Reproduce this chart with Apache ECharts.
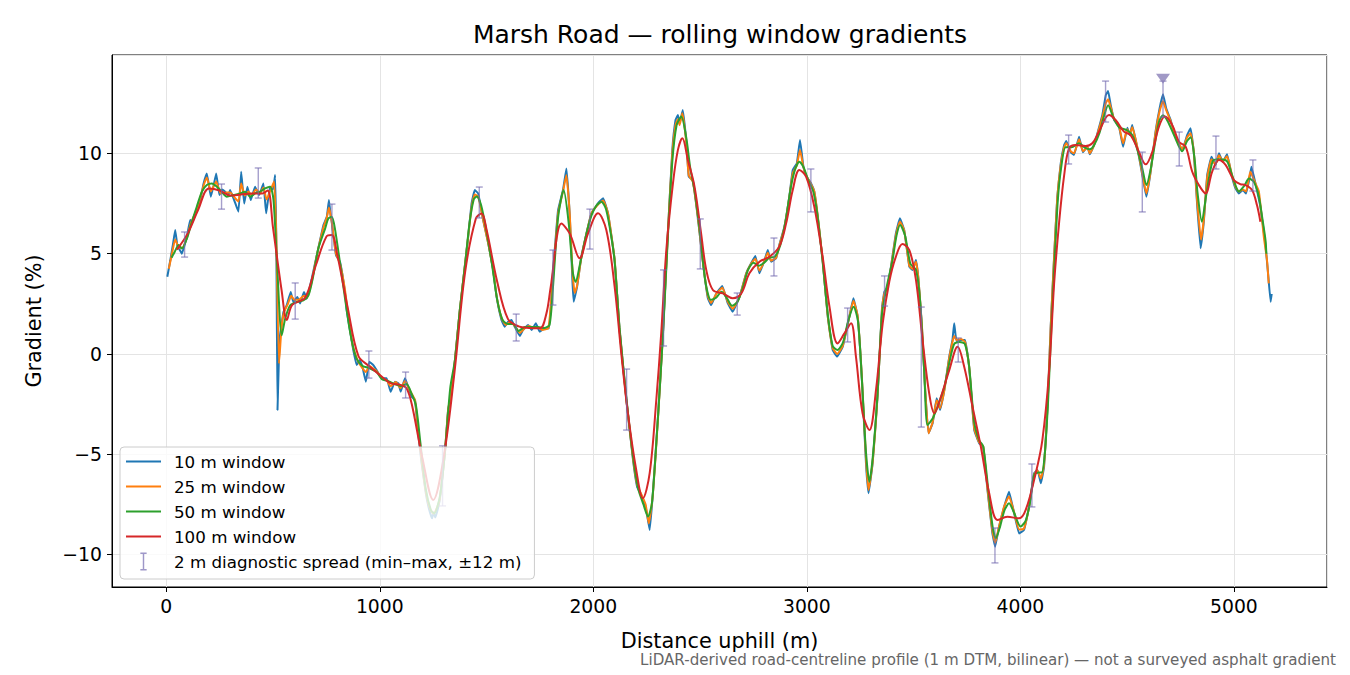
<!DOCTYPE html>
<html>
<head>
<meta charset="utf-8">
<title>Marsh Road — rolling window gradients</title>
<script src="https://cdn.jsdelivr.net/npm/echarts@6/dist/echarts.min.js"></script>
<style>
  html, body { margin: 0; padding: 0; background: #fff; }
  #chart { width: 1350px; height: 675px; }
</style>
</head>
<body>
<div id="chart"></div>
<script>
// 10 m window (distance m, gradient %)
const d10 = [5, 19, 32, 42, 52, 60, 73, 85, 97, 112, 122, 143, 159, 175, 190, 200, 209, 222, 234, 249, 262, 276, 290, 299, 318, 338, 351, 365, 380, 396, 416, 435, 455, 468, 486, 500, 510, 516, 521, 527, 533, 549, 564, 583, 595, 614, 627, 645, 658, 681, 705, 736, 752, 762, 770, 775, 795, 814, 837, 845, 860, 876, 892, 907, 920, 935, 951, 970, 985, 1009, 1032, 1051, 1071, 1087, 1098, 1118, 1133, 1149, 1165, 1180, 1196, 1215, 1230, 1245, 1252, 1260, 1270, 1281, 1305, 1320, 1336, 1352, 1375, 1391, 1414, 1430, 1445, 1461, 1484, 1508, 1531, 1547, 1570, 1585, 1601, 1617, 1632, 1656, 1671, 1695, 1711, 1731, 1749, 1773, 1793, 1811, 1835, 1858, 1874, 1890, 1902, 1908, 1924, 1944, 1968, 1991, 2022, 2046, 2069, 2100, 2123, 2155, 2186, 2205, 2225, 2245, 2264, 2279, 2303, 2326, 2349, 2370, 2385, 2396, 2404, 2419, 2435, 2447, 2466, 2489, 2513, 2536, 2552, 2576, 2604, 2630, 2653, 2685, 2716, 2739, 2759, 2778, 2802, 2817, 2833, 2856, 2871, 2895, 2918, 2934, 2953, 2968, 2984, 2999, 3020, 3035, 3051, 3074, 3098, 3121, 3142, 3168, 3199, 3218, 3238, 3258, 3277, 3289, 3308, 3331, 3352, 3363, 3378, 3394, 3417, 3436, 3456, 3480, 3495, 3511, 3523, 3539, 3554, 3570, 3589, 3608, 3624, 3644, 3667, 3682, 3690, 3701, 3721, 3741, 3760, 3784, 3807, 3826, 3846, 3869, 3882, 3900, 3924, 3947, 3971, 3994, 4017, 4041, 4064, 4080, 4096, 4111, 4127, 4142, 4158, 4173, 4189, 4205, 4215, 4236, 4251, 4275, 4293, 4314, 4325, 4345, 4365, 4384, 4400, 4411, 4423, 4439, 4462, 4481, 4501, 4512, 4524, 4548, 4571, 4590, 4610, 4633, 4652, 4668, 4683, 4704, 4719, 4734, 4758, 4781, 4797, 4812, 4828, 4844, 4859, 4875, 4895, 4914, 4930, 4948, 4968, 4989, 5007, 5023, 5042, 5057, 5073, 5082, 5101, 5124, 5147, 5160, 5172, 5177];
const g10 = [3.85, 4.67, 5.5, 6.18, 5.4, 5.25, 5.0, 5.4, 5.85, 6.68, 6.55, 7.18, 7.67, 8.5, 9.0, 8.4, 7.84, 8.4, 9.0, 7.92, 8.2, 8.09, 7.9, 8.17, 7.67, 7.09, 9.08, 7.5, 8.34, 7.67, 8.34, 7.92, 8.5, 7.01, 8.34, 8.2, 8.92, 5.0, -2.79, -0.5, 0.93, 2.09, 2.42, 3.09, 2.59, 2.84, 2.52, 3.09, 2.76, 3.74, 4.92, 6.42, 6.84, 7.67, 6.9, 6.59, 4.92, 4.59, 3.09, 2.19, 1.2, 0.2, -0.55, -0.3, -0.7, -1.38, -0.38, -0.55, -0.8, -1.21, -1.21, -1.88, -1.38, -1.46, -1.88, -1.21, -1.63, -2.13, -2.29, -3.95, -5.45, -6.9, -7.7, -8.19, -7.9, -8.15, -7.8, -7.27, -4.95, -2.79, -1.96, -0.3, 2.19, 3.69, 5.85, 7.51, 8.17, 8.0, 6.68, 5.52, 4.19, 2.86, 1.69, 1.36, 1.61, 1.69, 1.36, 0.9, 1.2, 1.44, 1.2, 1.53, 1.11, 1.28, 1.28, 4.02, 7.17, 8.17, 9.25, 6.84, 3.69, 2.61, 3.35, 4.85, 6.01, 7.01, 7.51, 7.76, 7.01, 4.68, 1.2, -2.29, -5.28, -6.61, -7.03, -7.61, -8.77, -6.94, -3.12, 1.03, 6.01, 10.16, 11.66, 11.91, 11.49, 12.16, 10.66, 8.84, 8.67, 6.84, 4.6, 2.8, 2.44, 3.02, 3.39, 2.52, 2.11, 2.86, 4.02, 4.52, 4.88, 4.02, 4.68, 5.18, 4.6, 4.77, 5.43, 6.34, 7.84, 9.17, 9.5, 10.66, 9.33, 8.84, 8.5, 8.09, 6.84, 4.68, 1.86, 0.2, -0.13, 0.36, 1.86, 2.78, 1.86, -1.3, -5.45, -6.94, -5.45, -2.13, 2.3, 3.1, 3.35, 4.35, 6.01, 6.76, 6.18, 4.35, 4.19, 4.68, 3.69, 1.36, -1.79, -3.95, -3.45, -2.21, -2.79, -1.79, -0.13, 0.7, 1.53, 0.65, 0.7, 0.7, -0.63, -3.79, -4.45, -4.62, -6.78, -8.94, -9.6, -8.61, -7.61, -6.86, -7.94, -8.94, -8.77, -7.61, -5.94, -5.78, -6.44, -5.61, -2.63, 1.36, 4.85, 7.84, 9.5, 10.41, 10.61, 10.05, 9.92, 10.83, 10.05, 10.33, 9.95, 10.41, 11.16, 11.91, 12.9, 13.1, 12.41, 11.66, 11.33, 10.33, 11.28, 10.91, 11.41, 10.25, 8.92, 7.84, 9.08, 11.08, 12.24, 12.94, 12.24, 11.66, 11.08, 10.66, 10.16, 10.91, 11.25, 10.08, 7.42, 5.27, 6.59, 8.92, 9.83, 9.42, 10.0, 9.58, 9.95, 8.92, 8.26, 8.0, 8.17, 8.0, 8.75, 9.33, 8.5, 7.34, 5.52, 4.02, 2.6, 3.0];

// 25 m window
const d25 = [12, 25, 42, 60, 75, 97, 115, 143, 160, 175, 190, 209, 234, 255, 280, 300, 320, 338, 351, 368, 385, 400, 420, 440, 455, 470, 490, 505, 515, 528, 540, 552, 570, 585, 600, 620, 645, 660, 681, 705, 736, 752, 762, 775, 795, 814, 837, 860, 876, 900, 935, 951, 985, 1010, 1032, 1051, 1075, 1098, 1118, 1140, 1165, 1180, 1196, 1215, 1235, 1252, 1270, 1281, 1305, 1320, 1336, 1352, 1375, 1391, 1414, 1430, 1445, 1461, 1484, 1508, 1531, 1547, 1570, 1590, 1610, 1632, 1656, 1680, 1700, 1720, 1740, 1760, 1790, 1811, 1835, 1858, 1874, 1890, 1902, 1913, 1924, 1944, 1968, 1991, 2022, 2046, 2069, 2100, 2123, 2155, 2186, 2205, 2225, 2245, 2260, 2279, 2303, 2326, 2349, 2370, 2385, 2396, 2404, 2417, 2435, 2447, 2466, 2489, 2513, 2536, 2552, 2576, 2604, 2630, 2653, 2685, 2716, 2739, 2759, 2778, 2802, 2817, 2833, 2856, 2871, 2895, 2918, 2934, 2953, 2968, 2984, 2999, 3020, 3035, 3051, 3074, 3098, 3121, 3142, 3168, 3199, 3218, 3238, 3258, 3277, 3289, 3308, 3331, 3352, 3363, 3378, 3394, 3417, 3436, 3456, 3480, 3495, 3511, 3523, 3539, 3554, 3570, 3589, 3608, 3624, 3644, 3667, 3682, 3690, 3701, 3721, 3741, 3760, 3784, 3807, 3826, 3846, 3869, 3882, 3900, 3924, 3947, 3971, 3994, 4017, 4041, 4064, 4080, 4096, 4111, 4127, 4142, 4158, 4173, 4189, 4205, 4215, 4236, 4251, 4275, 4293, 4314, 4325, 4345, 4365, 4384, 4400, 4411, 4423, 4439, 4462, 4481, 4501, 4512, 4524, 4548, 4571, 4590, 4610, 4633, 4652, 4668, 4683, 4704, 4719, 4734, 4758, 4781, 4797, 4812, 4828, 4846, 4859, 4875, 4895, 4914, 4930, 4948, 4968, 4989, 5007, 5023, 5042, 5057, 5077, 5101, 5117, 5140, 5155, 5163];
const g25 = [4.25, 4.9, 5.7, 5.3, 5.3, 5.8, 6.5, 7.2, 7.8, 8.4, 8.8, 8.1, 8.6, 8.0, 8.05, 8.05, 7.8, 7.6, 8.5, 7.9, 8.1, 7.9, 8.2, 8.0, 8.3, 7.7, 8.2, 8.6, 6.0, -0.47, 1.3, 2.1, 2.5, 2.9, 2.7, 2.7, 2.9, 2.8, 3.6, 4.9, 6.3, 6.8, 7.3, 6.6, 5.0, 4.5, 3.2, 1.3, 0.3, -0.4, -0.9, -0.6, -0.85, -1.2, -1.3, -1.6, -1.4, -1.7, -1.35, -1.8, -2.3, -3.8, -5.3, -6.8, -7.7, -7.95, -7.6, -7.2, -4.9, -2.8, -1.8, -0.3, 2.2, 3.7, 5.85, 7.3, 7.95, 7.85, 6.7, 5.5, 4.2, 2.9, 1.8, 1.45, 1.6, 1.4, 1.05, 1.3, 1.4, 1.3, 1.35, 1.2, 1.3, 3.8, 7.0, 8.1, 8.92, 6.9, 4.2, 3.04, 3.4, 4.8, 6.0, 7.0, 7.45, 7.65, 7.0, 4.7, 1.2, -2.3, -5.2, -6.5, -7.0, -7.5, -8.45, -7.0, -3.2, 1.0, 6.0, 10.0, 11.4, 11.7, 11.4, 12.0, 10.6, 8.9, 8.6, 6.9, 4.6, 2.9, 2.55, 3.0, 3.3, 2.6, 2.25, 2.85, 4.0, 4.5, 4.75, 4.15, 4.65, 5.05, 4.65, 4.8, 5.4, 6.3, 7.8, 9.0, 9.4, 10.16, 9.3, 8.85, 8.45, 8.1, 6.9, 4.7, 1.9, 0.3, 0.0, 0.4, 1.85, 2.65, 1.9, -1.2, -5.2, -6.78, -5.4, -2.1, 2.2, 3.0, 3.35, 4.3, 5.9, 6.6, 6.15, 4.4, 4.25, 4.6, 3.7, 1.4, -1.7, -3.95, -3.4, -2.3, -2.7, -1.8, -0.2, 0.6, 0.9, 0.7, 0.75, 0.6, -0.6, -3.7, -4.4, -4.6, -6.7, -8.8, -9.4, -8.6, -7.6, -7.1, -7.9, -8.75, -8.7, -7.6, -6.0, -5.8, -6.2, -5.5, -2.6, 1.3, 4.8, 7.8, 9.4, 10.3, 10.5, 10.1, 10.0, 10.7, 10.1, 10.3, 10.0, 10.4, 11.1, 11.8, 12.5, 12.7, 12.3, 11.7, 11.35, 10.5, 11.2, 10.95, 11.3, 10.3, 9.0, 8.0, 9.1, 11.0, 12.1, 12.6, 12.15, 11.6, 11.1, 10.7, 10.2, 10.8, 11.0, 10.1, 7.6, 5.7, 6.7, 8.8, 9.7, 9.45, 9.9, 9.6, 9.85, 9.0, 8.35, 8.1, 8.2, 8.1, 9.08, 8.5, 8.1, 5.85, 4.68, 3.52];

// 50 m window
const d50 = [25, 40, 58, 73, 97, 120, 143, 167, 190, 214, 237, 260, 284, 315, 346, 369, 393, 416, 440, 463, 486, 502, 518, 541, 557, 580, 611, 642, 666, 689, 712, 744, 759, 775, 790, 822, 861, 890, 920, 950, 985, 1010, 1040, 1070, 1100, 1125, 1150, 1170, 1190, 1215, 1240, 1255, 1270, 1285, 1305, 1330, 1352, 1375, 1400, 1420, 1440, 1455, 1475, 1500, 1525, 1550, 1575, 1600, 1625, 1650, 1680, 1710, 1740, 1770, 1795, 1811, 1835, 1861, 1885, 1905, 1917, 1940, 1968, 1991, 2015, 2038, 2060, 2085, 2100, 2123, 2155, 2186, 2210, 2235, 2256, 2275, 2300, 2326, 2349, 2370, 2390, 2412, 2435, 2455, 2475, 2500, 2525, 2550, 2575, 2600, 2625, 2650, 2675, 2700, 2725, 2750, 2775, 2800, 2825, 2850, 2875, 2900, 2925, 2945, 2965, 2985, 3005, 3030, 3050, 3074, 3098, 3121, 3144, 3170, 3195, 3219, 3240, 3258, 3277, 3293, 3310, 3331, 3352, 3375, 3400, 3420, 3437, 3460, 3485, 3511, 3530, 3550, 3565, 3590, 3620, 3645, 3670, 3690, 3715, 3740, 3760, 3784, 3807, 3826, 3850, 3870, 3885, 3905, 3925, 3947, 3970, 4001, 4025, 4045, 4065, 4085, 4100, 4115, 4130, 4145, 4160, 4175, 4190, 4212, 4240, 4275, 4300, 4325, 4345, 4370, 4390, 4411, 4435, 4462, 4500, 4525, 4550, 4571, 4590, 4610, 4635, 4650, 4668, 4690, 4720, 4758, 4780, 4797, 4815, 4830, 4850, 4870, 4900, 4930, 4968, 4995, 5023, 5050, 5070, 5093, 5117, 5132, 5148, 5152];
const g50 = [4.8, 5.1, 5.43, 5.26, 5.76, 6.59, 7.34, 8.09, 8.42, 8.5, 8.34, 8.09, 7.84, 7.92, 8.0, 8.09, 7.84, 8.0, 8.09, 8.25, 8.34, 7.7, 4.7, 0.93, 1.76, 2.42, 2.59, 2.67, 2.92, 3.92, 5.25, 6.25, 6.75, 6.84, 6.25, 3.92, 1.1, -0.2, -0.6, -0.7, -0.9, -1.25, -1.35, -1.5, -1.6, -1.5, -2.0, -2.6, -4.4, -6.7, -7.8, -7.94, -7.6, -6.9, -4.9, -1.7, -0.3, 2.2, 4.5, 6.5, 7.7, 7.85, 7.4, 6.1, 4.5, 2.7, 1.7, 1.5, 1.5, 1.15, 1.35, 1.35, 1.35, 1.3, 1.45, 3.3, 6.8, 8.17, 6.5, 4.0, 3.6, 4.6, 6.0, 6.9, 7.4, 7.59, 7.2, 5.8, 4.6, 1.3, -2.2, -5.1, -6.7, -7.5, -8.1, -7.4, -3.6, 0.9, 5.8, 9.6, 11.4, 11.83, 10.8, 9.2, 8.1, 6.0, 3.6, 2.7, 2.8, 3.1, 2.8, 2.4, 2.6, 3.3, 4.2, 4.55, 4.4, 4.55, 4.8, 4.85, 5.4, 6.6, 8.3, 9.2, 9.58, 9.3, 8.7, 8.1, 6.9, 4.6, 2.0, 0.4, 0.2, 0.6, 1.7, 2.36, 1.6, -1.3, -4.9, -6.36, -5.0, -2.0, 2.0, 3.4, 4.6, 5.9, 6.43, 5.9, 4.5, 4.2, 2.7, -0.9, -3.54, -3.2, -2.4, -1.6, -0.3, 0.5, 0.6, 0.5, -0.6, -3.4, -4.3, -4.6, -6.8, -8.6, -9.18, -8.6, -7.8, -7.44, -7.9, -8.6, -8.3, -7.4, -6.0, -5.9, -5.9, -4.9, -2.3, 1.3, 4.6, 7.6, 9.2, 10.3, 10.3, 10.5, 10.3, 10.2, 10.4, 11.0, 11.8, 12.4, 11.8, 11.3, 11.15, 10.9, 10.1, 9.25, 8.42, 9.2, 10.8, 11.6, 11.9, 11.6, 10.9, 10.1, 10.6, 10.8, 9.8, 8.0, 6.59, 7.9, 9.6, 9.7, 9.6, 8.8, 8.1, 8.4, 8.75, 8.59, 7.84, 6.84, 5.68, 5.0];

// 100 m window
const d100 = [50, 100, 150, 200, 250, 300, 350, 400, 450, 475, 500, 540, 565, 590, 650, 700, 750, 775, 800, 850, 900, 950, 1000, 1050, 1100, 1125, 1150, 1200, 1250, 1300, 1350, 1400, 1450, 1477, 1500, 1550, 1600, 1650, 1700, 1750, 1780, 1800, 1851, 1890, 1936, 1975, 2022, 2061, 2100, 2131, 2162, 2201, 2232, 2264, 2295, 2318, 2342, 2373, 2396, 2417, 2443, 2474, 2505, 2529, 2560, 2607, 2653, 2693, 2731, 2778, 2825, 2871, 2903, 2934, 2965, 2997, 3035, 3074, 3106, 3144, 3176, 3207, 3230, 3261, 3293, 3324, 3355, 3386, 3417, 3448, 3480, 3511, 3542, 3573, 3597, 3628, 3667, 3706, 3737, 3776, 3815, 3854, 3893, 3939, 3994, 4025, 4072, 4103, 4134, 4158, 4181, 4205, 4228, 4259, 4306, 4337, 4368, 4415, 4446, 4485, 4516, 4555, 4587, 4618, 4649, 4677, 4711, 4743, 4774, 4805, 4836, 4867, 4898, 4930, 4961, 5000, 5031, 5054, 5085, 5108, 5124];
const g100 = [5.2, 6.0, 7.2, 8.25, 8.15, 7.9, 7.95, 8.0, 8.0, 8.15, 6.3, 3.2, 1.7, 2.45, 2.8, 4.4, 5.85, 5.93, 5.0, 2.3, -0.1, -0.6, -1.05, -1.45, -1.55, -1.7, -2.5, -5.2, -7.27, -5.1, -0.9, 4.1, 6.75, 7.0, 6.2, 3.6, 1.75, 1.38, 1.3, 1.28, 2.0, 3.3, 6.5, 6.0, 4.77, 6.0, 7.01, 6.18, 3.35, 0.03, -2.95, -5.78, -7.19, -5.94, -2.29, 1.03, 5.18, 8.5, 10.16, 10.75, 9.67, 8.34, 6.0, 4.19, 3.19, 3.02, 2.78, 3.02, 4.02, 4.6, 4.85, 5.35, 6.51, 8.17, 9.17, 8.83, 7.34, 4.85, 2.36, 0.53, 1.03, 1.53, -0.13, -2.95, -3.79, -1.79, 1.5, 3.6, 4.85, 5.48, 5.18, 3.69, 0.7, -1.96, -2.95, -2.13, -0.8, 0.36, -0.63, -2.63, -4.62, -6.94, -8.27, -8.11, -8.19, -7.77, -5.94, -4.29, -0.96, 3.5, 6.5, 8.9, 10.25, 10.41, 10.36, 10.5, 11.08, 11.91, 11.66, 11.08, 10.91, 10.08, 9.45, 10.08, 11.33, 11.83, 11.41, 10.58, 10.33, 9.08, 8.42, 8.0, 9.08, 9.67, 9.42, 8.67, 8.46, 8.42, 8.17, 7.42, 6.59];

// 2 m diagnostic spread: min and max within ±12 m
const errDist = [86, 259, 431, 604, 776, 949, 1121, 1294, 1466, 1639, 1811, 1984, 2156, 2329, 2501, 2674, 2846, 3019, 3191, 3364, 3536, 3709, 3881, 4054, 4226, 4399, 4571, 4668, 4744, 4916, 5089];
const errMin = [4.83, 7.22, 7.77, 1.74, 5.18, -1.2, -2.19, -7.57, 6.78, 0.65, 2.44, 5.23, -3.79, 0.4, 4.24, 1.94, 3.89, 7.08, 0.6, 2.39, -3.64, -0.4, -10.41, -7.62, 9.47, 11.56, 7.08, 11.8, 9.37, 9.22, 8.12];
const errMax = [6.08, 8.47, 9.27, 3.54, 7.47, 0.15, -0.9, -4.58, 8.32, 1.99, 5.18, 7.22, -0.75, 4.19, 6.73, 3.04, 5.78, 9.22, 2.29, 3.89, 2.34, 0.8, -8.67, -5.48, 10.91, 13.6, 10.06, 13.6, 11.06, 10.86, 9.67];

// steepest point marker
const peakDist = [4668];
const peakVal = [13.72];

const FONT = "DejaVu Sans";
const errColor = "rgba(117,107,177,0.65)";
const lineIcon = "path://M0,0h35v2.2h-35z";
const minus = (v) => (v < 0 ? "\u2212" + Math.abs(v) : String(v));
const pairs = (xs, ys) => xs.map((x, i) => [x, ys[i]]);

const chartDom = document.getElementById("chart");
const myChart = echarts.init(chartDom, null, { renderer: "svg" });

function lineSeries(name, xs, ys, color, z, smooth) {
  return {
    name: name,
    type: "line",
    data: pairs(xs, ys),
    symbol: "none",
    smooth: smooth,
    z: z,
    lineStyle: { color: color, width: 2 },
    itemStyle: { color: color },
    animation: false,
  };
}

const errName = "2 m diagnostic spread (min\u2013max, \u00b112 m)";

const option = {
  backgroundColor: "#ffffff",
  textStyle: { fontFamily: FONT },
  grid: {
    left: 112,
    right: 23,
    top: 55,
    bottom: 88,
    show: true,
    borderColor: "#000",
    borderWidth: 1,
    backgroundColor: "transparent",
  },
  graphic: [
    {
      type: "text",
      x: 720,
      y: 34,
      style: {
        text: "Marsh Road \u2014 rolling window gradients",
        font: "25px 'DejaVu Sans'",
        fill: "#000",
        textAlign: "center",
        textVerticalAlign: "middle",
      },
    },
    {
      type: "text",
      x: 1336,
      y: 660,
      style: {
        text: "LiDAR-derived road-centreline profile (1 m DTM, bilinear) \u2014 not a surveyed asphalt gradient",
        font: "15.1px 'DejaVu Sans'",
        fill: "#666",
        textAlign: "right",
        textVerticalAlign: "middle",
      },
    },
  ],
  legend: {
    left: 120,
    top: 447,
    orient: "vertical",
    z: 20,
    itemWidth: 35,
    itemHeight: 18,
    itemGap: 6,
    padding: [5, 13, 8, 6],
    backgroundColor: "rgba(255,255,255,0.8)",
    borderColor: "#cccccc",
    borderWidth: 1,
    borderRadius: 4,
    textStyle: { fontFamily: FONT, fontSize: 16.7, color: "#000", padding: [0, 0, 0, 8], lineHeight: 19 },
    data: [
      { name: "10 m window", icon: lineIcon },
      { name: "25 m window", icon: lineIcon },
      { name: "50 m window", icon: lineIcon },
      { name: "100 m window", icon: lineIcon },
      {
        name: errName,
        icon: "path://M0,0h7v1.6h-7z M2.7,1.6h1.6v16.8h-1.6z M0,18.4h7v1.6h-7z",
        itemStyle: { color: "rgba(117,107,177,0.7)" },
      },
    ],
  },
  xAxis: {
    type: "value",
    min: -254,
    max: 5436,
    splitNumber: 5,
    name: "Distance uphill (m)",
    nameLocation: "middle",
    nameGap: 43,
    nameTextStyle: { fontFamily: FONT, fontSize: 20.8, color: "#000" },
    axisLine: { show: true, onZero: false, lineStyle: { color: "#000" } },
    axisTick: { show: true, length: 5, lineStyle: { color: "#000" } },
    axisLabel: {
      fontFamily: FONT,
      fontSize: 18.8,
      color: "#000",
      margin: 10,
      showMinLabel: false,
      showMaxLabel: false,
      formatter: minus,
    },
    splitLine: { show: true, lineStyle: { color: "#e4e4e4", width: 1 } },
  },
  yAxis: {
    type: "value",
    min: -11.61,
    max: 14.9,
    splitNumber: 5,
    name: "Gradient (%)",
    nameLocation: "middle",
    nameGap: 68,
    nameTextStyle: { fontFamily: FONT, fontSize: 20.8, color: "#000" },
    axisLine: { show: true, onZero: false, lineStyle: { color: "#000" } },
    axisTick: { show: true, length: 5, lineStyle: { color: "#000" } },
    axisLabel: {
      fontFamily: FONT,
      fontSize: 18.8,
      color: "#000",
      margin: 10,
      showMinLabel: false,
      showMaxLabel: false,
      formatter: minus,
    },
    splitLine: { show: true, lineStyle: { color: "#e4e4e4", width: 1 } },
  },
  series: [
    lineSeries("10 m window", d10, g10, "#1f77b4", 2, 0.1),
    lineSeries("25 m window", d25, g25, "#ff7f0e", 3, 0.15),
    lineSeries("50 m window", d50, g50, "#2ca02c", 4, 0.25),
    lineSeries("100 m window", d100, g100, "#d62728", 5, 0.35),
    {
      name: errName,
      type: "custom",
      z: 6,
      animation: false,
      itemStyle: { color: errColor },
      encode: { x: 0, y: [1, 2] },
      data: errDist.map((d, i) => [d, errMin[i], errMax[i]]),
      renderItem: (params, api) => {
        const lo = api.coord([api.value(0), api.value(1)]);
        const hi = api.coord([api.value(0), api.value(2)]);
        const cap = 3.5;
        const style = { stroke: errColor, lineWidth: 1.4 };
        return {
          type: "group",
          children: [
            { type: "line", shape: { x1: lo[0], y1: lo[1], x2: hi[0], y2: hi[1] }, style: style },
            { type: "line", shape: { x1: lo[0] - cap, y1: lo[1], x2: lo[0] + cap, y2: lo[1] }, style: style },
            { type: "line", shape: { x1: hi[0] - cap, y1: hi[1], x2: hi[0] + cap, y2: hi[1] }, style: style },
          ],
        };
      },
    },
    {
      name: "steepest",
      type: "scatter",
      z: 7,
      animation: false,
      symbol: "triangle",
      symbolRotate: 180,
      symbolSize: [14, 10],
      itemStyle: { color: "#8a7fb8" },
      data: pairs(peakDist, peakVal),
    },
  ],
};

myChart.setOption(option);
window.addEventListener("resize", () => myChart.resize());
</script>
</body>
</html>
